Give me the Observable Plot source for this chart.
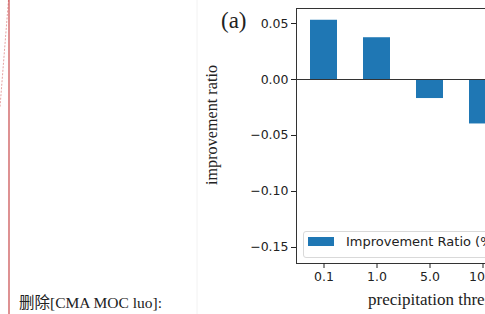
<!DOCTYPE html>
<html>
<head>
<meta charset="utf-8">
<script src="https://cdn.jsdelivr.net/npm/d3@7"></script>
<script src="https://cdn.jsdelivr.net/npm/@observablehq/plot@0.6"></script>
<style>
  html, body { margin: 0; padding: 0; background: #fff; }
  body { width: 485px; height: 314px; overflow: hidden; position: relative; }
  .abs { position: absolute; white-space: nowrap; }
  #chart { position: absolute; left: 200px; top: 0px; width: 310px; height: 314px; }
  #chart svg { max-width: none !important; width: 310px; height: 314px; display: block; }
  .serif { font-family: "Liberation Serif", "Noto Sans CJK SC", serif; color: #222; }
</style>
</head>
<body>
<svg class="abs" style="left:0;top:0" width="200" height="314">
  <line x1="197" y1="0" x2="197" y2="314" stroke="#f2f2f2" stroke-width="1"/>
  <line x1="8.5" y1="0" x2="0" y2="107" stroke="#e6a3a3" stroke-width="1" stroke-dasharray="2,1.5"/>
  <line x1="9" y1="0" x2="9" y2="314" stroke="#c8484a" stroke-width="1.2"/>
</svg>
<div class="abs serif" style="left:19px;top:293px;font-size:15.5px;line-height:20px;">删除[CMA MOC luo]:</div>

<div id="chart"></div>

<div class="abs serif" style="left:221px;top:7px;font-size:23px;line-height:28px;">(a)</div>
<div class="abs serif" style="left:212px;top:125px;font-size:16.2px;line-height:18px;transform:translate(-50%,-50%) rotate(-90deg);">improvement ratio</div>
<div class="abs serif" style="left:368px;top:290px;font-size:17px;line-height:20px;">precipitation threshold (mm)</div>

<div class="abs" style="left:303px;top:231px;width:200px;height:25px;border:1px solid #d9d9d9;border-radius:3px;background:rgba(255,255,255,0.85);"></div>
<div class="abs" style="left:308px;top:237px;width:26px;height:9px;background:#1f77b4;"></div>
<div class="abs" style="left:346px;top:233px;font-family:'DejaVu Sans';font-size:13px;line-height:18px;color:#222;">Improvement Ratio (%)</div>

<script>
const categories = ["0.1", "1.0", "5.0", "10.0"];
const values = [0.0529, 0.0373, -0.0170, -0.0397];
const yTicks = [0.05, 0.00, -0.05, -0.10, -0.15];
const yDomain = [-0.1643, 0.0634];

const data = categories.map((c, i) => ({c, v: values[i]}));

const chart = Plot.plot({
  width: 310,
  height: 314,
  marginLeft: 96,
  marginRight: 0,
  marginTop: 8,
  marginBottom: 51,
  style: {fontFamily: "DejaVu Sans", fontSize: "12.5px", color: "#222", background: "transparent", overflow: "visible"},
  x: {domain: categories, paddingInner: 0.5, paddingOuter: 0.25},
  y: {domain: yDomain},
  marks: [
    Plot.barY(data, {x: "c", y: "v", fill: "#1f77b4"}),
    Plot.ruleY([0], {stroke: "#333", strokeWidth: 1}),
    Plot.frame({stroke: "#333", strokeWidth: 1}),
    Plot.axisY(yTicks, {tickFormat: d3.format(".2f"), tickSize: 5, tickPadding: 3, label: null}),
    Plot.axisX({tickSize: 5, tickPadding: 4, label: null})
  ]
});
document.getElementById("chart").appendChild(chart);
</script>
</body>
</html>
